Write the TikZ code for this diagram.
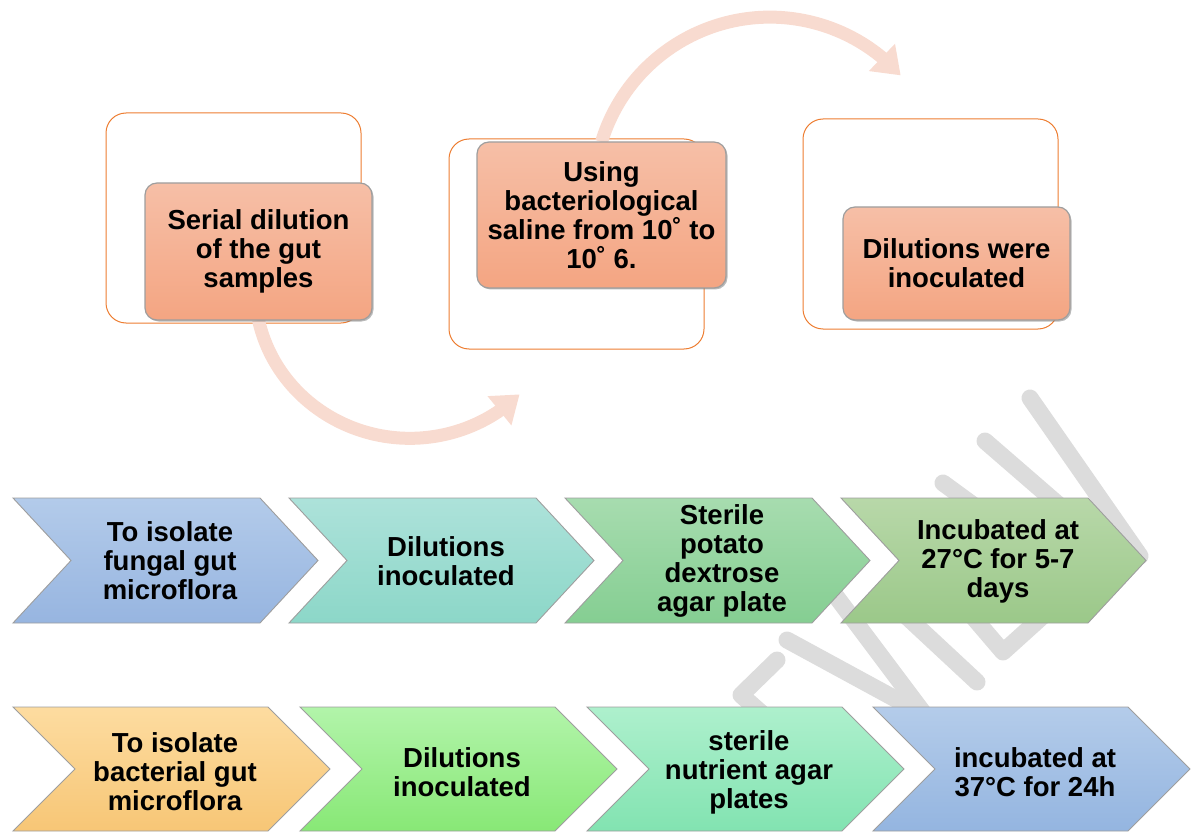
\documentclass[tikz,border=0pt]{standalone}
\usepackage{fontspec}
\setmainfont{Liberation Sans}
\usetikzlibrary{arrows.meta,bending,shadows}
\definecolor{orangeline}{HTML}{ED7D31}
\definecolor{boxtop}{HTML}{F6BFA7}
\definecolor{boxbot}{HTML}{F4A582}
\definecolor{arrowc}{HTML}{F8DBD0}
\definecolor{wmgray}{HTML}{DCDCDC}
\definecolor{aTop}{HTML}{B3CBEA}\definecolor{aBot}{HTML}{97B5E0}
\definecolor{bTop}{HTML}{ADE2DA}\definecolor{bBot}{HTML}{8CD7C8}
\definecolor{cTop}{HTML}{A7DCAF}\definecolor{cBot}{HTML}{85CE92}
\definecolor{dTop}{HTML}{B8D8A9}\definecolor{dBot}{HTML}{9BC889}
\definecolor{eTop}{HTML}{FDDCA0}\definecolor{eBot}{HTML}{F7C676}
\definecolor{gTop}{HTML}{B2F4AA}\definecolor{gBot}{HTML}{88E876}
\definecolor{hTop}{HTML}{AEF0CD}\definecolor{hBot}{HTML}{82E3B1}
\definecolor{iTop}{HTML}{B4CCEA}\definecolor{iBot}{HTML}{94B5E0}
\newcommand\mychev[7]{% left, top, width, height, depth, top colour, bottom colour
  \path[chevshape, top color=#6, bottom color=#7] (#1,#2) -- ({#1+#3-#5},#2) -- ({#1+#3},{#2+#4/2}) -- ({#1+#3-#5},{#2+#4}) -- (#1,{#2+#4}) -- ({#1+#5},{#2+#4/2}) -- cycle;}
\begin{document}
\begin{tikzpicture}[x=1pt,y=-1pt,
  outl/.style={draw=orangeline, line width=1pt, rounded corners=20pt, minimum width=255pt, minimum height=210pt, inner sep=0pt},
  ctext/.style={align=center, inner sep=0pt, font=\bfseries\fontsize{27.5}{29}\selectfont},
  fbox/.style={ctext, draw=black!38, line width=1.2pt, rounded corners=12pt, top color=boxtop, bottom color=boxbot, drop shadow={shadow xshift=1.5pt, shadow yshift=-1.5pt, opacity=0.45, fill=black!60}},
  chevshape/.style={draw=black!38, line width=0.9pt},
  flow/.style={line width=13pt, draw=arrowc, -{Triangle[length=26pt,width=36pt]}},
  wm/.style={line width=17pt, draw=wmgray, line cap=round, line join=round}]
\useasboundingbox (0,0) rectangle (1191,834);
% watermark
\draw[wm] (1030,398) -- (1140,556);
\draw[wm] (985,441) -- (1090,532);
\draw[wm] (943,483) -- (1010,532);
\draw[wm] (950,590) -- (1003,652) -- (1085,578);
\draw[wm] (905,615) -- (977,682);
\draw[wm] (835,595) -- (925,715);
\draw[wm] (787,640) -- (925,715);
\draw[wm] (777,660) -- (741,695) -- (775,725);
% outline boxes
\node[outl] (o1) at (233.5,218) {};
\node[outl] (o2) at (576.5,244) {};
\node[outl] (o3) at (930.5,224) {};
% filled boxes
\coordinate (s1) at (258.5,320);
\coordinate (s2) at (601.5,142);
\draw[flow] (s1) arc[start angle=167.8, end angle=45, x radius=155, y radius=150];
\draw[flow] (s2) arc[start angle=196.9, end angle=318, radius=176];
\node[fbox, minimum width=227pt, minimum height=137pt] (b1) at (258.5,251.5) {Serial dilution\\of the gut\\samples};
\node[fbox, minimum width=249pt, minimum height=146pt] (b2) at (601.5,215) {Using\\bacteriological\\saline from 10˚ to\\10˚ 6.};
\node[fbox, minimum width=227pt, minimum height=113pt] (b3) at (956.5,263.5) {Dilutions were\\inoculated};
% row 1
\mychev{13}{498}{305}{125}{58}{aTop}{aBot}
\mychev{289}{498}{305}{125}{58}{bTop}{bBot}
\mychev{565}{498}{305}{125}{58}{cTop}{cBot}
\mychev{841}{498}{305}{125}{58}{dTop}{dBot}
\node[ctext] (f1) at (170,561) {To isolate\\fungal gut\\microflora};
\node[ctext] (f2) at (446,561) {Dilutions\\inoculated};
\node[ctext] (f3) at (722,561) {Sterile\\potato\\dextrose\\agar plate};
\node[ctext] (f4) at (998,561) {Incubated at\\27°C for 5-7\\days};
% row 2
\mychev{13}{707}{317}{124}{62}{eTop}{eBot}
\mychev{300}{707}{317}{124}{62}{gTop}{gBot}
\mychev{587}{707}{317}{124}{62}{hTop}{hBot}
\mychev{873}{707}{317}{124}{62}{iTop}{iBot}
\node[ctext] (g1) at (175,772) {To isolate\\bacterial gut\\microflora};
\node[ctext] (g2) at (462,772) {Dilutions\\inoculated};
\node[ctext] (g3) at (749,772) {sterile\\nutrient agar\\plates};
\node[ctext] (g4) at (1035,772) {incubated at\\37°C for 24h};
\end{tikzpicture}
\end{document}
